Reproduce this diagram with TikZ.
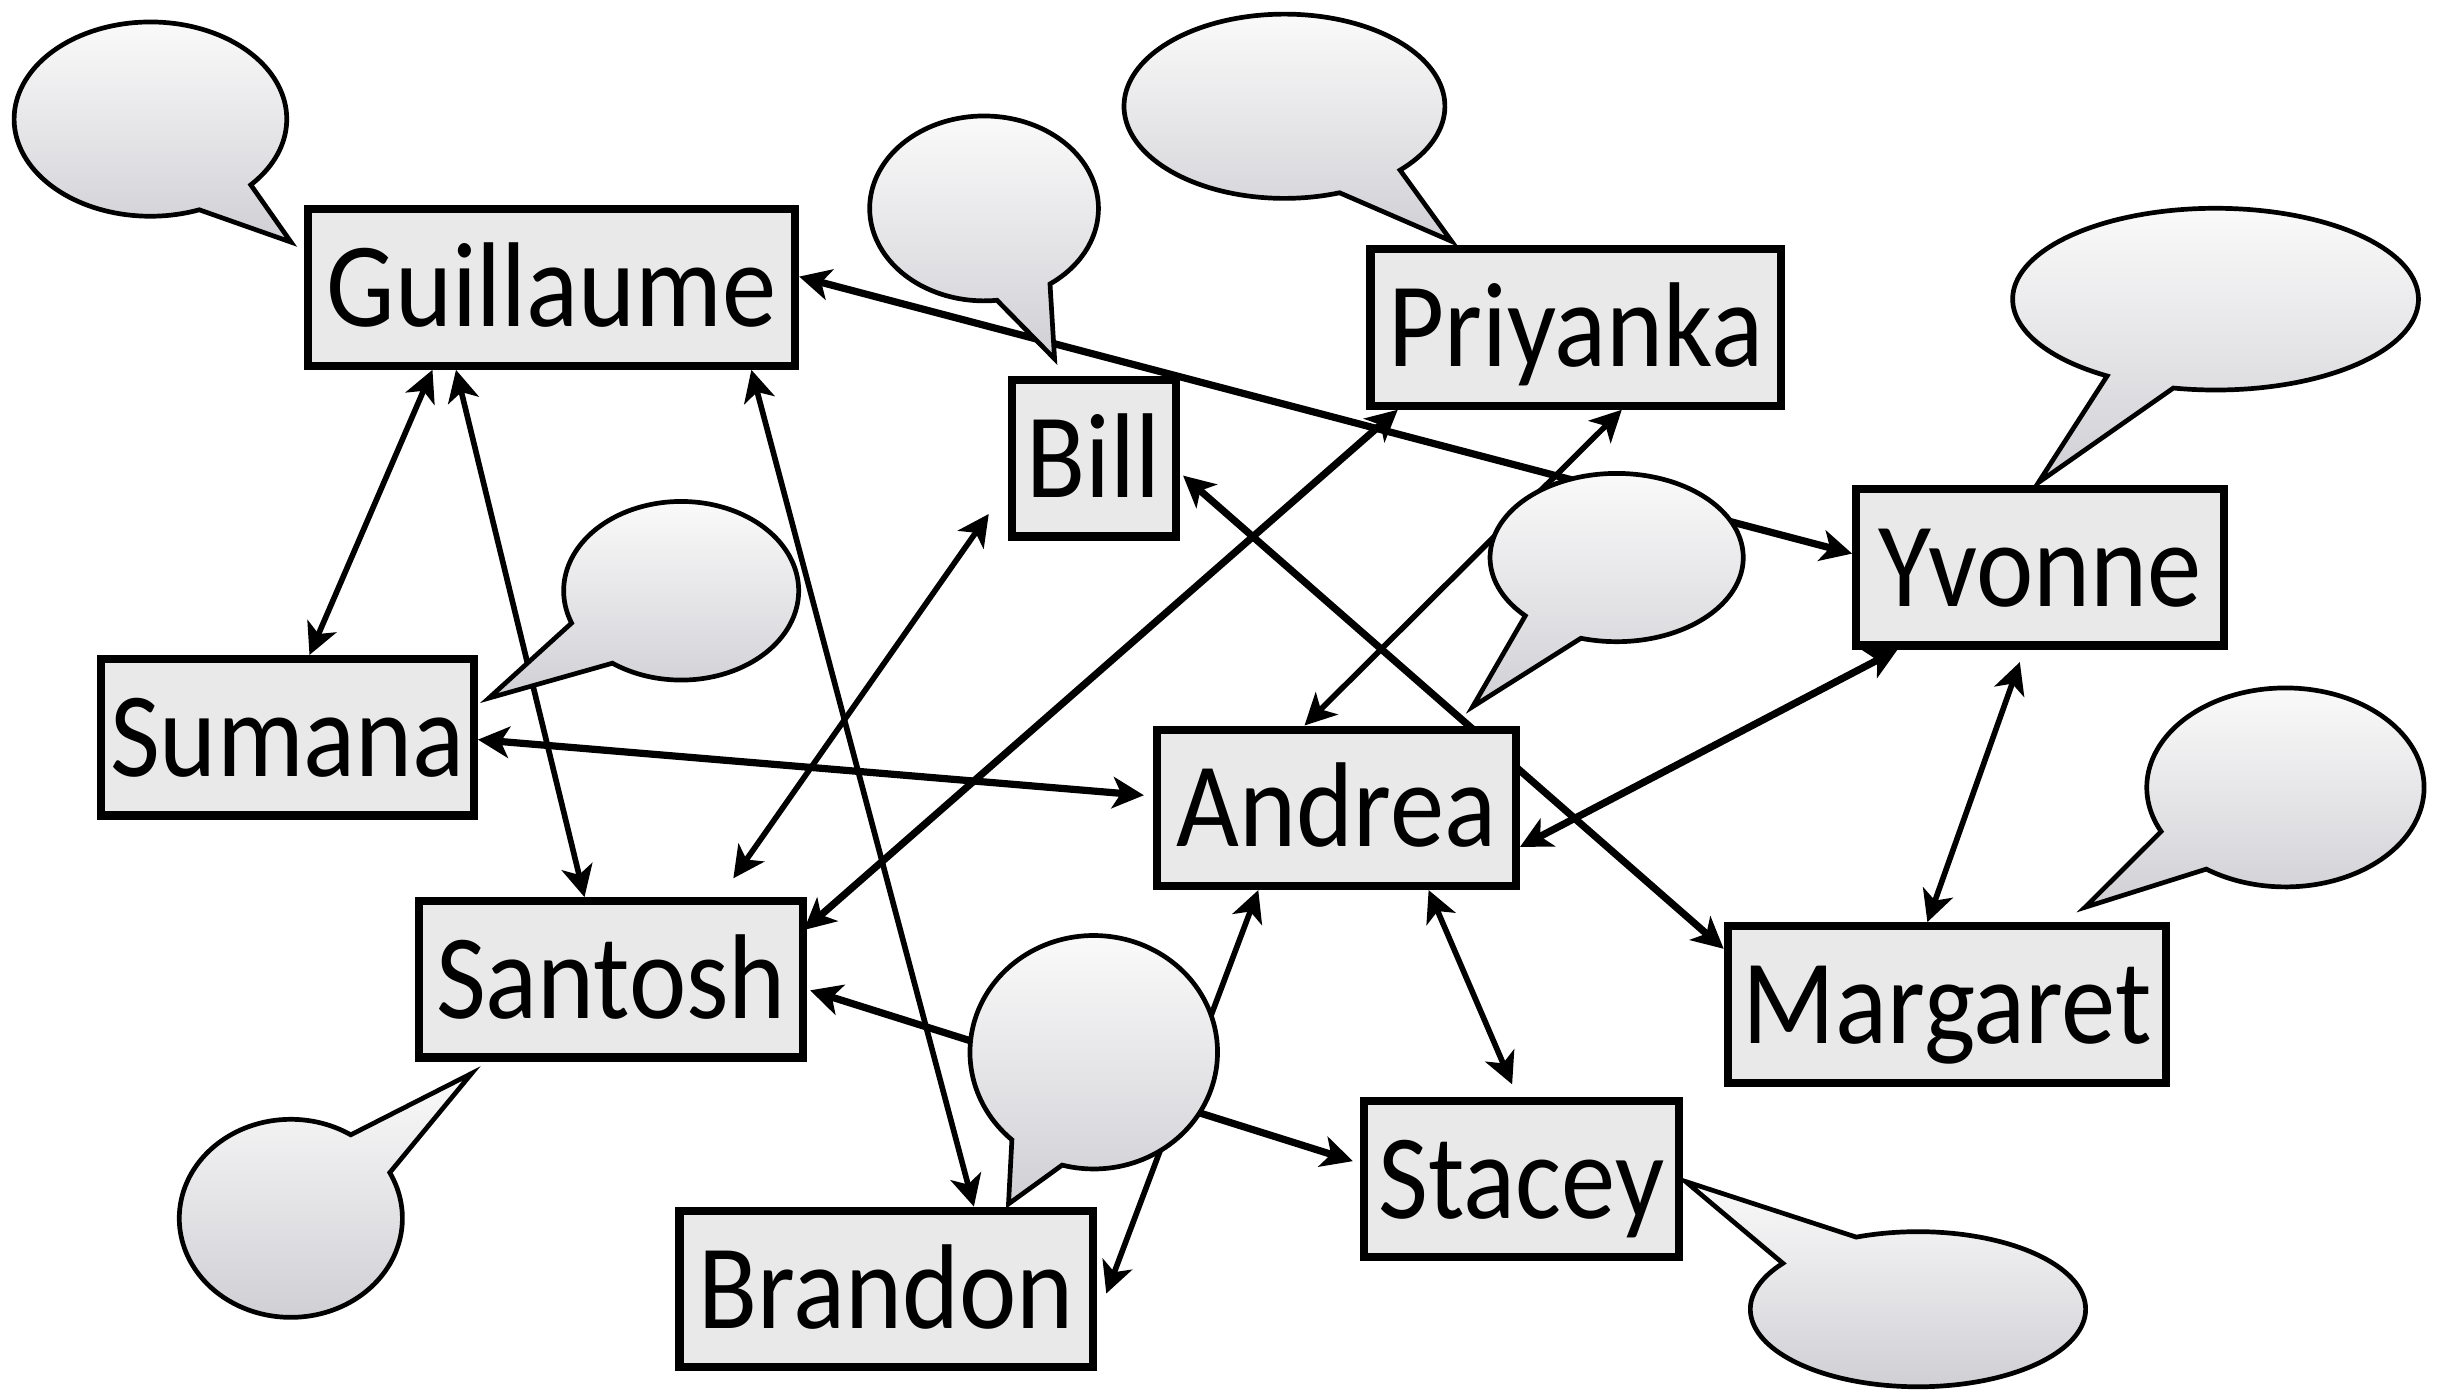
\documentclass[tikz,border=0pt]{standalone}
\usepackage{fontspec}
\setmainfont{Carlito}[FakeStretch=0.9]
\usetikzlibrary{arrows.meta,calc}

\definecolor{boxfill}{HTML}{E9E9E9}
\definecolor{bubbletop}{HTML}{FAFAFA}
\definecolor{bubblebot}{HTML}{D0CFD4}

\tikzset{
  person/.style={draw=black, line width=2.6pt, fill=boxfill, inner sep=0pt,
    minimum height={105*0.5pt-2.6pt}, text height=25pt, text depth=0pt,
    font=\fontsize{38.5pt}{40pt}\selectfont},
  bw/.style={minimum width={#1*0.5pt-2.6pt}},
  link/.style={line width=1.8pt,
    {Stealth[length=10pt,width=10pt,inset=2.7pt]}-{Stealth[length=10pt,width=10pt,inset=2.7pt]}},
  heavy/.style={line width=2.3pt},
  bubble/.style={line width=1.5pt, draw=black, top color=bubbletop, bottom color=bubblebot},
}

% speech bubble: centre (#1,#2), radii #3/#4, outline from angle #5 round to #6, tail tip (#7,#8)
\newcommand\speechbubble[8]{%
  \path[bubble] plot[domain=#5:#6, samples=140, variable=\t]
    ({#1+#3*cos(\t)},{#2+#4*sin(\t)}) -- (#7,#8) -- cycle;
}

\pgfdeclarelayer{links}
\pgfsetlayers{links,main}

\begin{document}
\begin{tikzpicture}[x=0.5pt, y=-0.5pt]
\useasboundingbox (0,0) rectangle (1568,890);

% people
\node[person, bw=316] (guil) at (352,183.5)   {Guillaume};
\node[person, bw=110] (bill) at (698,292.5)   {Bill};
\node[person, bw=267] (priy) at (1005.5,209)  {Priyanka};
\node[person, bw=240] (yvon) at (1302,362)    {Yvonne};
\node[person, bw=243] (suma) at (183.5,470.5) {Sumana};
\node[person, bw=234] (andr) at (853,515.5)   {Andrea};
\node[person, bw=250] (sant) at (390,625)     {Santosh};
\node[person, bw=285] (marg) at (1242.5,641)  {Margaret};
\node[person, bw=206] (stac) at (971,752.5)   {Stacey};
\node[person, bw=269] (bran) at (565.5,822.5) {Brandon};

% connections, kept behind the boxes
\begin{pgfonlayer}{links}
\draw[link] ($(guil.south)+(-76,0)$) -- ($(suma.north)+(14,0)$);
\draw[link] ($(guil.south)+(-61,0)$) -- ($(sant.north)+(-17,0)$);
\draw[link] ($(guil.south)+(127.5,0)$) -- ($(bran.north)+(56,0)$);
\draw[link,heavy] ($(guil.east)+(0,-7)$) -- ($(yvon.west)+(0,-8.7)$);
\draw[link] ($(bill.south west)+(-12,-17)$) -- ($(sant.north)+(78,-12)$);
\draw[link,heavy] ($(bill.east)+(2,11)$) -- ($(marg.north west)+(0,17)$);
\draw[link,heavy] ($(priy.south west)+(20,0)$) -- ($(sant.north east)+(-2,21)$);
\draw[link] ($(priy.south)+(29.5,0)$) -- ($(andr.north)+(-20.5,0)$);
\draw[link,heavy] ($(suma.east)+(0,1.5)$) -- ($(andr.west)+(-6,-8)$);
\draw[link,heavy] ($(andr.east)+(0,25)$) -- ($(yvon.south west)+(29,0)$);
\draw[link] ($(yvon.south)+(-13,8)$) -- ($(marg.north)+(-12.5,0)$);
\draw[link] ($(andr.south)+(58.7,0)$) -- ($(stac.north)+(-6,-8)$);
\draw[link] ($(andr.south)+(-50,0)$) -- ($(bran.east)+(6,3)$);
\draw[link,heavy] ($(sant.east)+(2,7)$) -- ($(stac.west)+(-4.6,-11.5)$);
\end{pgfonlayer}

% speech bubbles
\speechbubble{96}{76}{87}{62}{69}{402.6}{185.7}{154.5}
\speechbubble{628}{133}{73}{59}{83.5}{414.8}{673}{229}
\speechbubble{819.7}{67.8}{102.4}{58.8}{69.9}{403.9}{926.4}{154}
\speechbubble{1413.9}{190.9}{129.5}{58}{122.3}{462}{1300.8}{308}
\speechbubble{434.7}{377}{75}{57}{158.8}{485.8}{312}{445.5}
\speechbubble{1031.7}{355.8}{80.8}{53.7}{136.2}{466.4}{939.8}{451}
\speechbubble{1458.5}{502.5}{88.5}{63.5}{153.7}{484.8}{1330.6}{579}
\speechbubble{185.6}{777.5}{71.2}{63.2}{332.5}{662.5}{301}{685}
\speechbubble{698}{671.5}{79}{74.5}{131.4}{464.8}{643.6}{768.3}
\speechbubble{1224}{835.5}{107}{49.5}{248.4}{576.3}{1075.7}{754}
\end{tikzpicture}
\end{document}
